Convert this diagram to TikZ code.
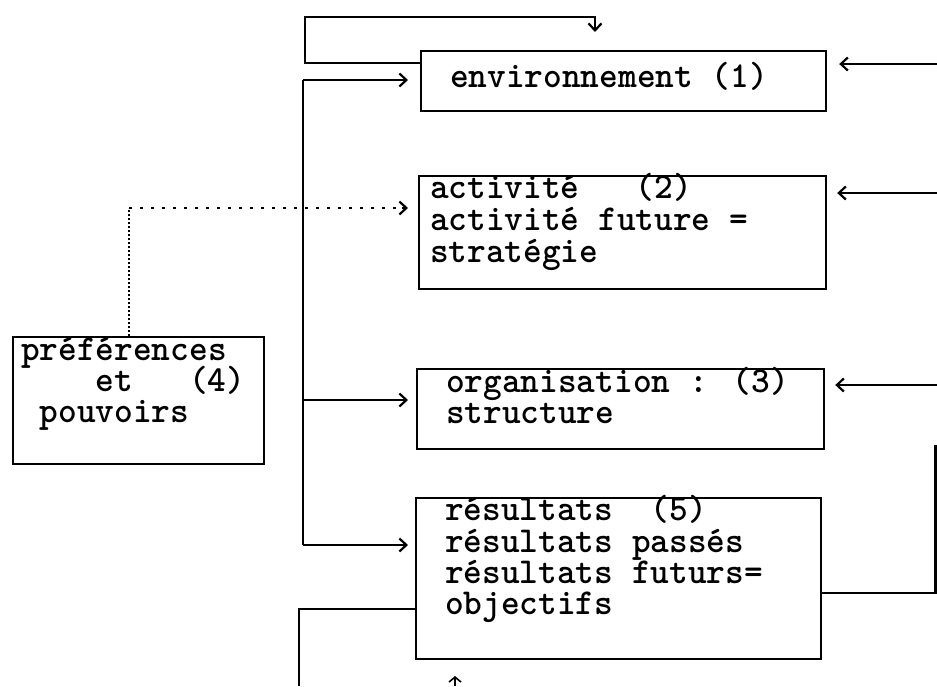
\documentclass[tikz,border=0pt]{standalone}
\usetikzlibrary{arrows.meta}
\newcommand\typed[1]{\scalebox{0.975}[1]{#1}}
\tikzset{
  box/.style={draw, line width=2.2pt, rectangle, inner sep=0pt, anchor=north west},
  ln/.style={line width=2.2pt},
  arr/.style={line width=2.2pt, -{Straight Barb[length=7pt,width=13pt,line width=2.2pt]}},
  dotv/.style={line width=2pt, dash pattern=on 2pt off 2pt},
  doth/.style={line width=1.6pt, dash pattern=on 3pt off 8pt},
  txt/.style={inner sep=0pt, anchor=base west, text height=20pt, text depth=6pt,
    font=\ttfamily\bfseries\fontsize{36.5}{32}\selectfont},
}
\begin{document}
\begin{tikzpicture}[x=1pt,y=-1pt]
\fill[white] (0,0) rectangle (937,686);
\useasboundingbox (0,0) rectangle (937,686);

% boxes
\node[box, minimum width=405pt, minimum height=60pt]  (env)  at (420,50)  {};
\node[box, minimum width=407pt, minimum height=113pt] (act)  at (418,175) {};
\node[box, minimum width=407pt, minimum height=80pt]  (org)  at (416,368) {};
\node[box, minimum width=405pt, minimum height=161pt] (res)  at (415,497) {};
\node[box, minimum width=251pt, minimum height=127pt] (pref) at (12,336)  {};

% box texts
\node[txt] (envA) at (450,87)  {\typed{environnement (1)}};
\node[txt] (actA) at (430,198) {\typed{activité\ \ \ (2)}};
\node[txt] (actB) at (430,230) {\typed{activité future =}};
\node[txt] (actC) at (430,262) {\typed{stratégie}};
\node[txt] (orgA) at (446,392) {\typed{organisation : (3)}};
\node[txt] (orgB) at (446,423) {\typed{structure}};
\node[txt] (resA) at (445,520) {\typed{résultats\ \ (5)}};
\node[txt] (resB) at (445,552) {\typed{résultats passés}};
\node[txt] (resC) at (445,583) {\typed{résultats futurs=}};
\node[txt] (resD) at (445,614) {\typed{objectifs}};
\node[txt] (prefA) at (21,360) {\typed{préférences}};
\node[txt] (prefB) at (21,391) {\typed{\ \ \ \ et\ \ \ (4)}};
\node[txt] (prefC) at (21,422) {\typed{\ pouvoirs}};

% feedback loop over the environment box
\coordinate (loopA) at (305,63);
\coordinate (loopB) at (305,17);
\coordinate (loopTip) at (595,32);
\draw[arr] (env.west |- loopA) -- (loopA) -- (loopB) -| (loopTip);

% left trunk feeding boxes 1, 3 and 5
\coordinate (tTop) at (303,80);
\coordinate (tMid) at (303,400);
\coordinate (tBot) at (303,545);
\draw[ln] (tTop) -- (tBot);
\draw[arr, shorten >=12pt] (tTop) -- (tTop -| env.west);
\draw[arr, shorten >=8pt]  (tMid) -- (tMid -| org.west);
\draw[arr, shorten >=7pt]  (tBot) -- (tBot -| res.west);

% dotted link from preferences to activity
\coordinate (dotC) at (129,208);
\draw[dotv] (pref.north -| dotC) -- (dotC);
\draw[doth] (dotC) -- ([xshift=-14pt]dotC -| act.west);
\draw[arr] ([xshift=-16pt]dotC -| act.west) -- ([xshift=-10pt]dotC -| act.west);

% arrows coming in from the right
\coordinate (rA) at (937,64);
\coordinate (rB) at (937,193);
\coordinate (rC) at (937,385);
\draw[arr, shorten >=12pt] (rA) -- (rA -| env.east);
\draw[arr, shorten >=10pt] (rB) -- (rB -| act.east);
\draw[arr, shorten >=10pt] (rC) -- (rC -| org.east);

% results going out to the right
\coordinate (oR) at (935.5,593);
\coordinate (oTop) at (935.5,445);
\draw[ln] (res.east |- oR) -- (oR) -- (oTop);

% results going out at the bottom left
\coordinate (bL) at (299,609);
\coordinate (bEnd) at (299,686);
\draw[ln] (res.west |- bL) -- (bL) -- (bEnd);

% small arrow under the results box
\coordinate (upS) at (455,686);
\coordinate (upT) at (455,676);
\draw[line width=1.6pt, -{Straight Barb[length=5pt,width=12pt,line width=1.6pt]}] (upS) -- (upT);
\end{tikzpicture}
\end{document}
